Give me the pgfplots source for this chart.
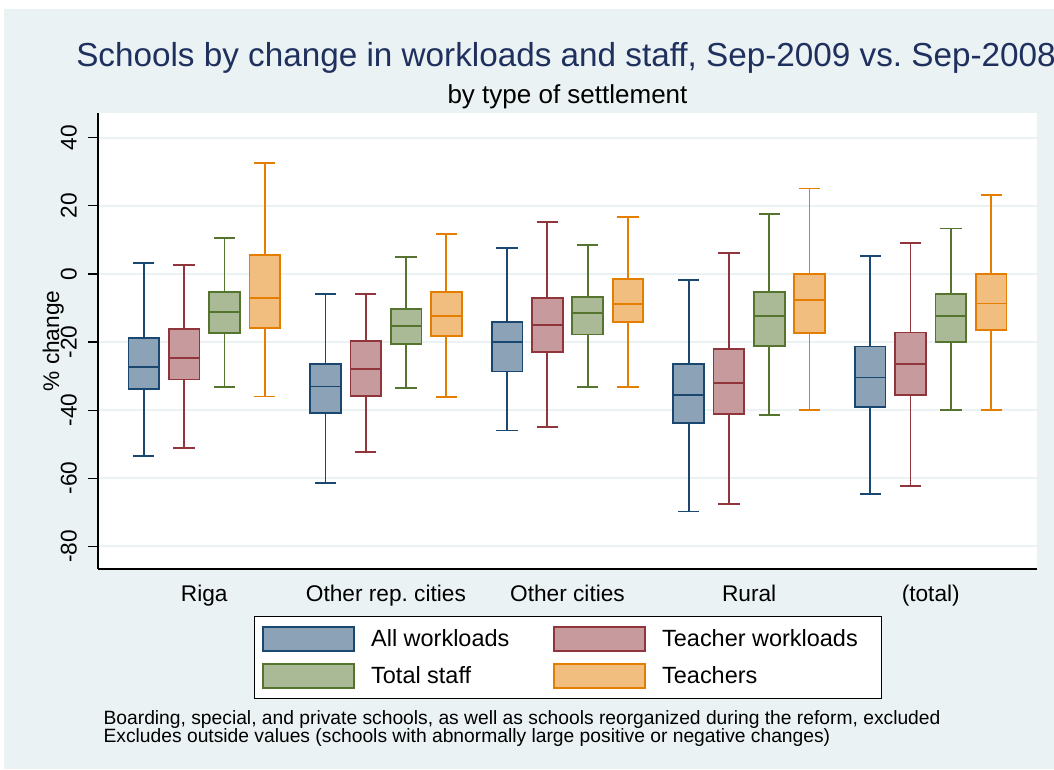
\documentclass[border=0pt]{standalone}
\usepackage{fontspec}
\setmainfont{Liberation Sans}
\usepackage{pgfplots}
\pgfplotsset{compat=1.18}
\usepgfplotslibrary{statistics}

% Stata s2color palette
\definecolor{navy}{RGB}{26,71,111}
\definecolor{maroon}{RGB}{144,53,59}
\definecolor{fgreen}{RGB}{85,117,47}
\definecolor{dkorange}{RGB}{227,126,0}
\definecolor{bgcol}{RGB}{234,242,243}
\definecolor{titlecol}{RGB}{31,48,94}

% one box: position, lower whisker, lower quartile, median, upper quartile, upper whisker
\newcommand{\bx}[7]{%
  \addplot[forget plot, draw=#1, fill=#1!50!white, line width=1.3pt, solid,
    boxplot/draw direction=y,
    boxplot prepared={draw position=#2, lower whisker=#3, lower quartile=#4,
      median=#5, upper quartile=#6, upper whisker=#7,
      box extend=0.169, whisker extend=0.117}] coordinates {};}

\begin{document}
\frenchspacing
\begin{tikzpicture}
\useasboundingbox (0pt,0pt) rectangle (790.5pt,576.75pt);
\clip (0pt,0pt) rectangle (790.5pt,576.75pt);
\fill[white] (0pt,0pt) rectangle (790.5pt,576.75pt);
\fill[bgcol] (3pt,0pt) rectangle (790.5pt,570pt);

\node[anchor=base west, inner sep=0pt, text=titlecol, font=\fontsize{24.95}{28}\selectfont]
  at (57pt,526.7pt) {Schools by change in workloads and staff, Sep-2009 vs.\ Sep-2008};
\node[anchor=base, inner sep=0pt, font=\fontsize{19.5}{22}\selectfont]
  at (425.6pt,499.3pt) {by type of settlement};

\begin{axis}[
  at={(73.5pt,150pt)}, anchor=south west,
  scale only axis, width=704.25pt, height=342pt,
  xmin=0.415, xmax=5.585, ymin=-86.7, ymax=47.3,
  axis background/.style={fill=white},
  axis x line=bottom, axis y line=left,
  axis line style={-, black, line width=0.9pt},
  xtick={1,2,3,4,5},
  xticklabels={Riga, Other rep. cities, Other cities, Rural, (total)},
  major x tick style={draw=none},
  ytick={-80,-60,-40,-20,0,20,40},
  tick align=outside, major tick length=7.5pt,
  major y tick style={black, line width=0.8pt},
  ymajorgrids, major grid style={bgcol, line width=1.5pt},
  /pgf/number format/assume math mode=true,
  tick label style={font=\fontsize{17}{20}\selectfont},
  xticklabel style={anchor=north, inner sep=0pt, yshift=-4.5pt},
  yticklabel style={xshift=-8.25pt, rotate=90, anchor=south, inner sep=0pt},
  ylabel={\% change},
  ylabel style={at={(axis description cs:-0.0415,0.5)}, anchor=base, inner sep=0pt,
    font=\fontsize{17}{20}\selectfont},
  legend columns=2,
  legend style={at={(0.1661,-0.103)}, anchor=north west, draw=black, line width=0.7pt,
    fill=white, inner xsep=6pt, inner ysep=7.5pt, row sep=8.25pt,
    cells={anchor=west}, nodes={inner sep=0pt},
    font=\fontsize{17.6}{20}\selectfont,
    /tikz/every odd column/.append style={column sep=12pt},
    /tikz/every even column/.append style={column sep=33pt}},
]

\addlegendimage{legend image code/.code={\draw[draw=navy, fill=navy!50!white, line width=1.3pt] (0pt,-9pt) rectangle (68.25pt,9pt);}}
\addlegendentry{All workloads}
\addlegendimage{legend image code/.code={\draw[draw=maroon, fill=maroon!50!white, line width=1.3pt] (0pt,-9pt) rectangle (68.25pt,9pt);}}
\addlegendentry{Teacher workloads\rule{12pt}{0pt}}
\addlegendimage{legend image code/.code={\draw[draw=fgreen, fill=fgreen!50!white, line width=1.3pt] (0pt,-9pt) rectangle (68.25pt,9pt);}}
\addlegendentry{Total staff}
\addlegendimage{legend image code/.code={\draw[draw=dkorange, fill=dkorange!50!white, line width=1.3pt] (0pt,-9pt) rectangle (68.25pt,9pt);}}
\addlegendentry{Teachers}

% Riga
\bx{navy}{0.667}{-53.4}{-33.9}{-27.4}{-18.8}{3.3}
\bx{maroon}{0.889}{-51.1}{-31.0}{-24.6}{-16.2}{2.6}
\bx{fgreen}{1.111}{-33.2}{-17.4}{-11.1}{-5.3}{10.6}
\bx{dkorange}{1.333}{-36.0}{-15.8}{-7.1}{5.5}{32.6}
% Other rep. cities
\bx{navy}{1.667}{-61.4}{-40.8}{-33.1}{-26.5}{-5.8}
\bx{maroon}{1.889}{-52.3}{-35.9}{-27.9}{-19.6}{-5.8}
\bx{fgreen}{2.111}{-33.6}{-20.6}{-15.2}{-10.3}{5.0}
\bx{dkorange}{2.333}{-36.1}{-18.2}{-12.3}{-5.4}{11.8}
% Other cities
\bx{navy}{2.667}{-46.0}{-28.7}{-20.0}{-14.1}{7.6}
\bx{maroon}{2.889}{-44.9}{-23.0}{-15.0}{-7.1}{15.3}
\bx{fgreen}{3.111}{-33.2}{-17.8}{-11.4}{-6.7}{8.5}
\bx{dkorange}{3.333}{-33.2}{-14.2}{-8.9}{-1.5}{16.7}
% Rural
\bx{navy}{3.667}{-69.8}{-43.9}{-35.6}{-26.5}{-1.7}
\bx{maroon}{3.889}{-67.5}{-41.2}{-32.0}{-22.0}{6.1}
\bx{fgreen}{4.111}{-41.5}{-21.1}{-12.4}{-5.3}{17.7}
\bx{dkorange}{4.333}{-39.9}{-17.3}{-7.6}{0.0}{25.1}
% (total)
\bx{navy}{4.667}{-64.6}{-39.0}{-30.4}{-21.3}{5.3}
\bx{maroon}{4.889}{-62.3}{-35.6}{-26.5}{-17.2}{9.2}
\bx{fgreen}{5.111}{-39.9}{-19.9}{-12.4}{-5.8}{13.4}
\bx{dkorange}{5.333}{-39.9}{-16.5}{-8.7}{0.0}{23.2}
\end{axis}

\node[anchor=base west, inner sep=0pt, align=left, font=\fontsize{14.44}{14}\selectfont]
  at (77.5pt,19.7pt) {Boarding, special, and private schools, as well as schools reorganized during the reform, excluded\\
  Excludes outside values (schools with abnormally large positive or negative changes)};
\end{tikzpicture}
\end{document}
